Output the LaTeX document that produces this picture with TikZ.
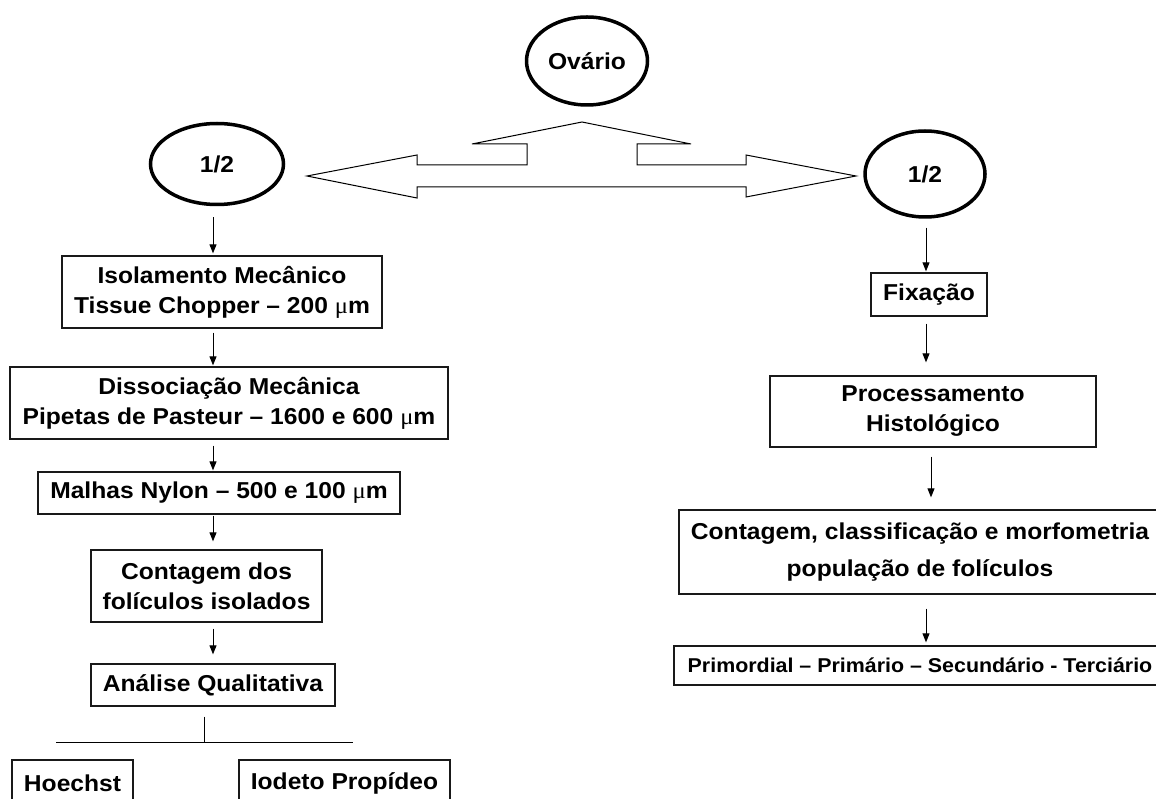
\documentclass[tikz,border=0pt]{standalone}
\usepackage{fontspec}
\setmainfont{Liberation Sans}[FakeStretch=1.07]
\newfontfamily\symf{Liberation Serif}[FakeStretch=1.07]
\usetikzlibrary{shapes.geometric,arrows.meta}
\newcommand{\mum}{{\symf\mdseries μ}m}
\begin{document}
\begin{tikzpicture}[x=1pt,y=-1pt,
  every node/.style={font=\fontsize{23}{30}\selectfont\bfseries, align=center, inner sep=0pt},
  oval/.style={draw, ellipse, line width=3.5pt},
  box/.style={draw=black!90, line width=1.3pt},
  arr/.style={-{Triangle[length=9pt,width=7pt]}, line width=0.9pt},
  lin/.style={line width=0.9pt}]
\useasboundingbox (0,0) rectangle (1156,799);
\clip (0,0) rectangle (1156,799);

% ovals
\node[oval, minimum width=121pt, minimum height=88pt] (ov) at (587,61) {Ovário};
\node[oval, minimum width=133pt, minimum height=81pt] (l1) at (217,164) {1/2};
\node[oval, minimum width=120pt, minimum height=86pt] (r1) at (925,174) {1/2};

% big double arrow
\draw[line width=1pt, line join=miter] (582,122) -- (691,144) -- (637,144) -- (637,165) -- (746,165) -- (746,155)
  -- (856,176) -- (746,197) -- (746,187) -- (417,187) -- (417,198) -- (307,176) -- (417,155)
  -- (417,165) -- (527,165) -- (527,144) -- (472,144) -- cycle;

% left column
\node[box, minimum width=320pt, minimum height=72pt] (b1) at (222,292) {Isolamento Mecânico\\Tissue Chopper -- 200 \mum};
\node[box, minimum width=438pt, minimum height=72pt] (b2) at (229,403) {Dissociação Mecânica\\Pipetas de Pasteur -- 1600 e 600 \mum};
\node[box, minimum width=362pt, minimum height=42pt] (b3) at (219,493) {Malhas Nylon -- 500 e 100 \mum};
\node[box, minimum width=231pt, minimum height=72pt] (b4) at (206.5,586) {Contagem dos\\folículos isolados};
\node[box, minimum width=244pt, minimum height=42pt] (b5) at (213,685) {Análise Qualitativa};
\node[box, minimum width=121pt, minimum height=46pt] (hoe) at (72.5,783) {Hoechst};
\node[box, minimum width=211pt, minimum height=46pt] (iod) at (344.5,783) {Iodeto Propídeo};

% right column
\node[box, minimum width=116pt, minimum height=43pt] (fix) at (929,294.5) {Fixação};
\node[box, minimum width=326pt, minimum height=71pt] (proc) at (933,411.5) {Processamento\\Histológico};
\node[box, minimum width=482pt, minimum height=84pt, font=\fontsize{23}{37}\selectfont\bfseries] (cont) at (920,552) {Contagem, classificação e morfometria\\população de folículos};
\node[box, minimum width=492pt, minimum height=39pt, font=\fontsize{20}{24}\selectfont\bfseries] (prim) at (920,665.5) {Primordial -- Primário -- Secundário - Terciário};

% left arrows
\draw[arr] ([xshift=-4pt,yshift=-11pt]l1.south) -- ([xshift=-9pt,yshift=2pt]b1.north);
\draw[arr] ([xshift=-9pt,yshift=-4pt]b1.south) -- ([xshift=-16pt,yshift=1pt]b2.north);
\draw[arr] ([xshift=-16pt,yshift=-6pt]b2.south) -- ([xshift=-6pt,yshift=1pt]b3.north);
\draw[arr] ([xshift=-6pt,yshift=-1pt]b3.south) -- ([xshift=6.5pt,yshift=8pt]b4.north);
\draw[arr] ([xshift=6.5pt,yshift=-6pt]b4.south) -- ([xshift=0pt,yshift=9pt]b5.north);
\coordinate (split) at (204,742);
\draw[lin] ([xshift=-9pt,yshift=-10pt]b5.south) -- (split);
\coordinate (sl) at (56,742);
\coordinate (sr) at (353,742);
\draw[lin] (sl) -- (sr);

% right arrows
\draw[arr] ([xshift=1pt,yshift=-9pt]r1.south) -- ([xshift=-3pt,yshift=1pt]fix.north);
\draw[arr] ([xshift=-3pt,yshift=-7pt]fix.south) -- ([xshift=-7pt,yshift=13pt]proc.north);
\draw[arr] ([xshift=-2pt,yshift=-9pt]proc.south) -- ([xshift=11pt,yshift=12pt]cont.north);
\draw[arr] ([xshift=6pt,yshift=-14pt]cont.south) -- ([xshift=6pt,yshift=3pt]prim.north);
\end{tikzpicture}
\end{document}
